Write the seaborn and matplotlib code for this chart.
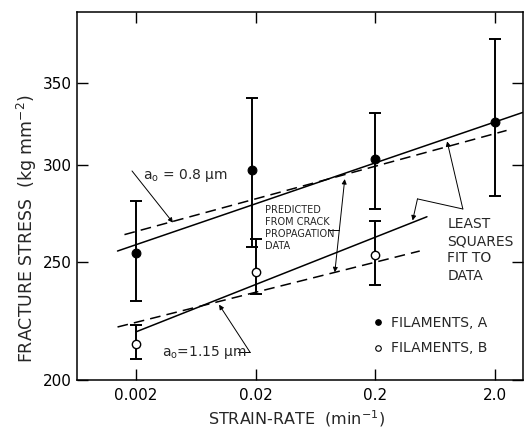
import numpy as np
import matplotlib
matplotlib.use('Agg')
import matplotlib.pyplot as plt
import seaborn as sns
from matplotlib.lines import Line2D

# ----------------------
# data
# ----------------------
# filaments A (filled circles)
a_rate = [0.002, 0.0185, 0.2, 2.0]
a_stress = [254, 297, 303, 325]
a_low = [232, 257, 276, 283]
a_high = [280, 340, 331, 380]

# filaments B (open circles)
b_rate = [0.002, 0.02, 0.2]
b_stress = [214, 245, 253]
b_low = [208, 235, 239]
b_high = [222, 261, 270]

# least squares fits (solid) and crack propagation predictions (dashed)
fit_a_rate = [0.0014, 3.4]
fit_a_stress = [255, 331]
pred_08_rate = [0.0016, 2.5]
pred_08_stress = [263, 320]
fit_b_rate = [0.002, 0.54]
fit_b_stress = [219, 272]
pred_115_rate = [0.0014, 0.47]
pred_115_stress = [221, 255]

x_ticks = [0.002, 0.02, 0.2, 2.0]
x_ticklabels = ['0.002', '0.02', '0.2', '2.0']
y_ticks = [200, 250, 300, 350]
y_ticklabels = ['200', '250', '300', '350']

# ----------------------
# setup
# ----------------------
sns.set_style('ticks')
plt.rcParams['font.family'] = ['DejaVu Sans']
plt.rcParams['mathtext.fontset'] = 'dejavusans'

fig = plt.figure(figsize=(5.25, 4.34), dpi=100)
ax = fig.add_axes([0.1467, 0.1244, 0.8495, 0.848])
ax.set_xscale('log')
ax.set_yscale('log')

dash = (0, (7, 4))

# lines
sns.lineplot(x=fit_a_rate, y=fit_a_stress, color='black', linewidth=1.1, ax=ax)
sns.lineplot(x=pred_08_rate, y=pred_08_stress, color='black', linewidth=1.1, linestyle=dash, ax=ax)
sns.lineplot(x=fit_b_rate, y=fit_b_stress, color='black', linewidth=1.1, ax=ax)
sns.lineplot(x=pred_115_rate, y=pred_115_stress, color='black', linewidth=1.1, linestyle=dash, ax=ax)

# error bars
ax.errorbar(a_rate, a_stress,
            yerr=[np.subtract(a_stress, a_low), np.subtract(a_high, a_stress)],
            fmt='none', ecolor='black', elinewidth=1.4, capsize=4.3, capthick=1.4, zorder=3)
ax.errorbar(b_rate, b_stress,
            yerr=[np.subtract(b_stress, b_low), np.subtract(b_high, b_stress)],
            fmt='none', ecolor='black', elinewidth=1.4, capsize=4.3, capthick=1.4, zorder=3)

# points
sns.scatterplot(x=a_rate, y=a_stress, color='black', edgecolor='black', s=40, linewidth=0.8, zorder=5, ax=ax)
sns.scatterplot(x=b_rate, y=b_stress, color='white', edgecolor='black', s=36, linewidth=1.0, zorder=5, ax=ax)

# ----------------------
# annotations
# ----------------------
arrow = dict(arrowstyle='-|>', color='black', lw=0.7, mutation_scale=7, shrinkA=0, shrinkB=0)

ax.text(0.00229, 294, r'$\mathregular{a_o}$ = 0.8 $\mathregular{\mu}$m', fontsize=10, va='center', ha='left')
ax.annotate('', xy=(0.00407, 269), xytext=(0.00185, 296.5), arrowprops=arrow)

ax.text(0.0033, 210.8, r'$\mathregular{a_o}$=1.15 $\mathregular{\mu}$m', fontsize=10, va='center', ha='left')
ax.plot([0.0142, 0.0179], [210.8, 210.8], color='black', lw=0.7)
ax.annotate('', xy=(0.00988, 230.5), xytext=(0.0179, 210.8), arrowprops=arrow)

ax.text(0.0239, 278, 'PREDICTED\nFROM CRACK\nPROPAGATION\nDATA', fontsize=7, va='top', ha='left',
        linespacing=1.25)
ax.annotate('', xy=(0.111, 292), xytext=(0.0917, 245),
            arrowprops=dict(arrowstyle='<|-|>', color='black', lw=0.7, mutation_scale=7, shrinkA=0, shrinkB=0))
ax.plot([0.0805, 0.0997], [265.3, 265.3], color='black', lw=0.7)

ax.text(0.80, 272, 'LEAST\nSQUARES\nFIT TO\nDATA', fontsize=10, va='top', ha='left', linespacing=1.3)
ax.annotate('', xy=(0.796, 313.5), xytext=(1.078, 276), arrowprops=arrow)
ax.plot([1.078, 0.45], [276, 281.3], color='black', lw=0.7)
ax.annotate('', xy=(0.41, 270.1), xytext=(0.45, 281.3), arrowprops=arrow)

# legend
handles = [Line2D([], [], marker='o', linestyle='none', markersize=4, markerfacecolor='black',
                  markeredgecolor='black', markeredgewidth=0.8),
           Line2D([], [], marker='o', linestyle='none', markersize=4, markerfacecolor='white',
                  markeredgecolor='black', markeredgewidth=0.8)]
ax.legend(handles, ['FILAMENTS, A', 'FILAMENTS, B'], loc='upper left', bbox_to_anchor=(0.6625, 0.175),
          frameon=False, fontsize=10, handlelength=0.8, handletextpad=0.5, labelspacing=0.85,
          borderpad=0, borderaxespad=0)

# ----------------------
# axes
# ----------------------
ax.set_xlim(0.000642, 3.43)
ax.set_ylim(200, 400)
ax.set_xticks(x_ticks)
ax.set_xticklabels(x_ticklabels)
ax.set_yticks(y_ticks)
ax.set_yticklabels(y_ticklabels)
ax.minorticks_off()
ax.tick_params(direction='in', length=8, width=1, top=True, right=True, labelsize=11, colors='black')
ax.tick_params(axis='x', pad=6)
ax.tick_params(axis='y', pad=4)
for s in ax.spines.values():
    s.set_linewidth(1.1)
    s.set_color('black')

ax.set_xlabel('STRAIN-RATE  (min$^{-1}$)', fontsize=11.5)
ax.xaxis.set_label_coords(0.493, -0.078)
ax.set_ylabel('FRACTURE STRESS  (kg mm$^{-2}$)', fontsize=12.5)
ax.yaxis.set_label_coords(-0.085, 0.41)

fig.savefig('out.png', dpi=100)
